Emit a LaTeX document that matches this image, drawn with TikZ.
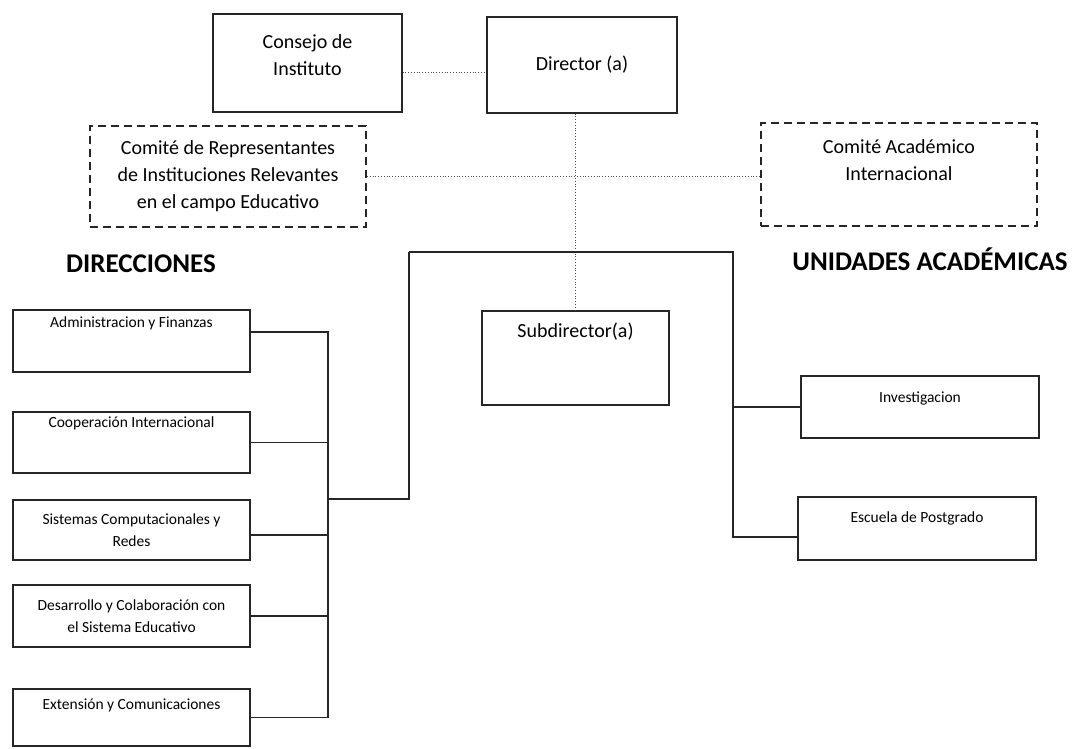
\documentclass[tikz,border=0pt]{standalone}
\usepackage{fontspec}
\setmainfont{Carlito}
\usetikzlibrary{positioning}
\tikzset{
    bigbox/.style={rectangle,draw=black!85,line width=1.1pt,align=center,font=\fontsize{20}{27}\selectfont},
    dashbox/.style={bigbox,dash pattern=on 8pt off 5pt,line width=2pt},
    smallbox/.style={rectangle,draw=black!85,line width=1.1pt,align=center,inner ysep=2pt,minimum width=237pt,font=\fontsize{15.5}{22}\selectfont},
    link/.style={-,draw=black!85,line width=1.2pt},
    dotlink/.style={-,draw=black!70,line width=0.8pt,dotted},
    heading/.style={anchor=base,font=\fontsize{27}{30}\selectfont\bfseries},
}

\begin{document}
\begin{tikzpicture}[x=1pt,y=-1pt]
    \useasboundingbox (0,0) rectangle (1078,748);
    \node[bigbox, minimum width=189pt, minimum height=98pt, text height=41pt, text depth=17pt] (consejo) at (307.5,63) {Consejo de\\Instituto};
    \node[bigbox, minimum width=190pt, minimum height=96pt] (director) at (582,65) {Director (a)};
    \node[dashbox, minimum width=276pt, minimum height=101pt] (comrep) at (228,176.5) {Comité de Representantes\\de Instituciones Relevantes\\en el campo Educativo};
    \node[dashbox, minimum width=276pt, minimum height=103pt, text height=41pt, text depth=30pt] (comacad) at (899,174.5) {Comité Académico\\Internacional};
    \node[heading] (direcciones) at (141,272) {DIRECCIONES};
    \node[heading] (unidades) at (930,270) {UNIDADES ACADÉMICAS};
    \node[bigbox, minimum width=187pt, minimum height=94pt, text height=14pt, text depth=56pt] (subdir) at (575.5,358) {Subdirector(a)};
    \node[smallbox, minimum height=62pt, text height=11pt, text depth=39pt] (admin) at (131.5,341) {Administracion y Finanzas};
    \node[smallbox, minimum height=61pt, text height=11pt, text depth=42pt] (coop) at (131.5,442.5) {Cooperación Internacional};
    \node[smallbox, minimum height=60pt] (sistemas) at (131.5,530) {Sistemas Computacionales y\\Redes};
    \node[smallbox, minimum height=62pt] (desarrollo) at (131.5,616) {Desarrollo y Colaboración con\\el Sistema Educativo};
    \node[smallbox, minimum height=57pt, text height=11pt, text depth=28pt] (extension) at (131.5,717.5) {Extensión y Comunicaciones};
    \node[smallbox, minimum width=238pt, minimum height=62pt, text height=11pt, text depth=21pt] (invest) at (920,407) {Investigacion};
    \node[smallbox, minimum width=238pt, minimum height=63pt, text height=11pt, text depth=24pt] (escuela) at (917,528.5) {Escuela de Postgrado};
    \coordinate (hub) at (409,252);
    \coordinate (rhub) at (733,252);
    \coordinate (lbus) at (328,499);
    \draw[dotlink] ([yshift=-9pt]consejo.east) -- ([yshift=-9pt]consejo.east -| director.west);
    \draw[dotlink] (subdir.north |- director.south) -- (subdir.north);
    \draw[dotlink] (comrep.east) -- (comrep.east -| comacad.west);
    \draw[link] (hub) -- (rhub) -- ([yshift=-8.5pt]escuela.west -| rhub) -- ([yshift=-8.5pt]escuela.west);
    \draw[link] (invest.west) -- (invest.west -| rhub);
    \draw[link] (hub) -- (hub |- lbus) -- (lbus);
    \draw[link] ([yshift=9pt]admin.east) -- ([yshift=9pt]admin.east -| lbus) -- (extension.east -| lbus) -- (extension.east);
    \draw[link] (coop.east) -- (coop.east -| lbus);
    \draw[link] ([yshift=-5pt]sistemas.east) -- ([yshift=-5pt]sistemas.east -| lbus);
    \draw[link] (desarrollo.east) -- (desarrollo.east -| lbus);
\end{tikzpicture}
\end{document}
